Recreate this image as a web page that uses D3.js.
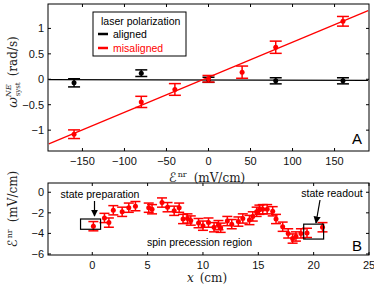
<!DOCTYPE html>
<html>
<head>
<meta charset="utf-8">
<script src="https://cdn.jsdelivr.net/npm/d3@7"></script>
<style>
  body { margin: 0; background: #fff; }
  text { font-family: "Liberation Sans", Arial, sans-serif; }
  .serif { font-family: "DejaVu Serif", "Liberation Serif", serif; }
</style>
</head>
<body>
<div id="chart"></div>
<script>
// panel A data
var fieldA = [-160, -80, 0, 80, 160];
var alignedVals = [-0.07, 0.12, -0.01, -0.03, -0.03];
var alignedErr = [0.08, 0.065, 0.05, 0.06, 0.06];
var fieldM = [-160, -80, -40, 0, 40, 80, 160];
var misVals = [-1.08, -0.445, -0.2, 0.01, 0.14, 0.63, 1.14];
var misErr = [0.085, 0.11, 0.115, 0.065, 0.12, 0.12, 0.095];
// fit lines (value at left and right ends)
var fitX = [-190, 190];
var alignedFit = [-0.005, -0.02];
var misFit = [-1.27, 1.35];
var ticksAx = [-150, -100, -50, 0, 50, 100, 150];
var ticksAy = [-1, -0.5, 0, 0.5, 1];

// panel B data
var posB = [0.1, 1.1, 1.5, 1.9, 2.7, 3.3, 3.9, 5.1, 5.4, 6.3, 6.8, 7.4, 7.85, 8.2, 8.6, 8.9,
  9.6, 10.0, 10.5, 11.0, 11.4, 11.6, 12.2, 12.6, 13.2, 13.6, 14.2, 14.5, 14.85, 15.1, 15.4,
  15.8, 16.3, 16.6, 17.2, 17.7, 18.1, 18.4, 18.85, 19.4, 20.8];
var fieldB = [-3.3, -2.5, -2.95, -1.75, -1.9, -1.5, -1.35, -1.5, -1.65, -1.0, -1.45, -1.8, -1.5,
  -2.6, -2.55, -2.75, -3.0, -3.25, -2.95, -3.4, -3.2, -3.45, -2.8, -3.1, -2.85, -2.55, -2.7,
  -2.35, -1.9, -1.7, -1.65, -1.65, -1.85, -2.6, -3.35, -4.0, -4.5, -4.3, -4.0, -3.95, -3.4];
var errB = 0.45;
var ticksBx = [0, 5, 10, 15, 20, 25];
var ticksBy = [-6, -4, -2, 0];

var svg = d3.select("#chart").append("svg")
    .attr("width", 374)
    .attr("height", 286);

var fmt = function (d) { return String(d).replace("-", "\u2212"); };

function drawFrame(x, y, xt, yt) {
    var g = svg.append("g");
    var x0 = x.range()[0], x1 = x.range()[1];
    var y0 = y.range()[0], y1 = y.range()[1];
    var tl = 3;
    xt.forEach(function (t) {
        g.append("line").attr("x1", x(t)).attr("x2", x(t)).attr("y1", y0).attr("y2", y0 - tl).attr("stroke", "#000");
        g.append("line").attr("x1", x(t)).attr("x2", x(t)).attr("y1", y1).attr("y2", y1 + tl).attr("stroke", "#000");
        g.append("text").attr("x", x(t)).attr("y", y0 + 14).attr("text-anchor", "middle")
            .attr("font-size", 11).attr("fill", "#111").text(fmt(t));
    });
    yt.forEach(function (t) {
        g.append("line").attr("x1", x0).attr("x2", x0 + tl).attr("y1", y(t)).attr("y2", y(t)).attr("stroke", "#000");
        g.append("line").attr("x1", x1).attr("x2", x1 - tl).attr("y1", y(t)).attr("y2", y(t)).attr("stroke", "#000");
        g.append("text").attr("x", x0 - 4).attr("y", y(t) + 4).attr("text-anchor", "end")
            .attr("font-size", 11).attr("fill", "#111").text(fmt(t));
    });
    g.append("rect").attr("x", x0).attr("y", y1).attr("width", x1 - x0).attr("height", y0 - y1)
        .attr("fill", "none").attr("stroke", "#000").attr("stroke-width", 1);
}

function errorBars(g, xs, ys, es, x, y, color, capW, r) {
    xs.forEach(function (d, i) {
        var e = Array.isArray(es) ? es[i] : es;
        var cx = x(d);
        g.append("line").attr("x1", cx).attr("x2", cx).attr("y1", y(ys[i] - e)).attr("y2", y(ys[i] + e))
            .attr("stroke", color).attr("stroke-width", 1.5);
        [ys[i] - e, ys[i] + e].forEach(function (v) {
            g.append("line").attr("x1", cx - capW).attr("x2", cx + capW).attr("y1", y(v)).attr("y2", y(v))
                .attr("stroke", color).attr("stroke-width", 1.5);
        });
        g.append("circle").attr("cx", cx).attr("cy", y(ys[i])).attr("r", r).attr("fill", color);
    });
}

function enrLabel(t) {
    t.append("tspan").attr("font-family", "'DejaVu Sans', sans-serif").attr("font-style", "italic")
        .attr("font-size", 13).text("\u2130");
    t.append("tspan").attr("font-size", 8).attr("dx", 1).attr("dy", -5).text("nr");
    t.append("tspan").attr("dx", 7).attr("dy", 5).text("(mV/cm)");
}

// ---------- panel A
var xA = d3.scaleLinear().domain([-191, 191]).range([48, 369]);
var yA = d3.scaleLinear().domain([-1.41, 1.48]).range([151, 4]);
var gA = svg.append("g");

gA.append("line").attr("x1", xA(fitX[0])).attr("x2", xA(fitX[1]))
    .attr("y1", yA(alignedFit[0])).attr("y2", yA(alignedFit[1]))
    .attr("stroke", "#000").attr("stroke-width", 1.2);
gA.append("line").attr("x1", xA(fitX[0])).attr("x2", xA(fitX[1]))
    .attr("y1", yA(misFit[0])).attr("y2", yA(misFit[1]))
    .attr("stroke", "#f00").attr("stroke-width", 1.2);

errorBars(gA, fieldA, alignedVals, alignedErr, xA, yA, "#000", 6, 2.5);
errorBars(gA, fieldM, misVals, misErr, xA, yA, "#f00", 6, 2.5);

drawFrame(xA, yA, ticksAx, ticksAy);

// legend
var leg = svg.append("g");
leg.append("rect").attr("x", 93).attr("y", 12).attr("width", 93).attr("height", 44)
    .attr("fill", "#fff").attr("stroke", "#000");
leg.append("text").attr("x", 101).attr("y", 25).attr("font-size", 10.5).text("laser polarization");
leg.append("line").attr("x1", 98).attr("x2", 108).attr("y1", 34).attr("y2", 34).attr("stroke", "#000").attr("stroke-width", 2.5);
leg.append("text").attr("x", 113).attr("y", 38).attr("font-size", 10.5).text("aligned");
leg.append("line").attr("x1", 98).attr("x2", 108).attr("y1", 48).attr("y2", 48).attr("stroke", "#f00").attr("stroke-width", 2.5);
leg.append("text").attr("x", 113).attr("y", 52).attr("font-size", 10.5).attr("fill", "#f00").text("misaligned");

svg.append("text").attr("x", 357).attr("y", 144).attr("font-size", 15).attr("text-anchor", "middle").text("A");

// axis labels A
var xlA = svg.append("text").attr("class", "serif").attr("x", 207).attr("y", 182)
    .attr("text-anchor", "middle").attr("font-size", 12).attr("fill", "#222");
enrLabel(xlA);

var ylA = svg.append("text").attr("class", "serif")
    .attr("transform", "translate(17,72) rotate(-90)")
    .attr("text-anchor", "middle").attr("font-size", 12).attr("fill", "#222");
ylA.append("tspan").attr("font-style", "italic").attr("font-size", 13).text("\u03c9");
ylA.append("tspan").attr("font-size", 8).attr("dy", -6).attr("font-style", "italic").text("NE");
ylA.append("tspan").attr("font-size", 7).attr("dx", -12).attr("dy", 9).text("syst");
ylA.append("tspan").attr("dx", 6).attr("dy", -3).text("(rad/s)");

// ---------- panel B
var xB = d3.scaleLinear().domain([-4, 25]).range([48, 369]);
var yB = d3.scaleLinear().domain([-6.1, 0.9]).range([255, 183]);
var gB = svg.append("g");

errorBars(gB, posB, fieldB, errB, xB, yB, "#f00", 5, 2.5);

drawFrame(xB, yB, ticksBx, ticksBy);

// annotation boxes
gB.append("rect").attr("x", xB(-1.06)).attr("y", yB(-2.6)).attr("width", xB(0.75) - xB(-1.06))
    .attr("height", yB(-3.6) - yB(-2.6)).attr("fill", "none").attr("stroke", "#000").attr("stroke-width", 1.2);
gB.append("rect").attr("x", xB(19.1)).attr("y", yB(-3.1)).attr("width", xB(20.9) - xB(19.1))
    .attr("height", yB(-4.55) - yB(-3.1)).attr("fill", "none").attr("stroke", "#000").attr("stroke-width", 1.2);

svg.append("defs").append("marker").attr("id", "arr").attr("viewBox", "0 0 10 10")
    .attr("refX", 9).attr("refY", 5).attr("markerWidth", 6).attr("markerHeight", 6)
    .attr("orient", "auto").append("path").attr("d", "M0,0L10,5L0,10z").attr("fill", "#000");

svg.append("text").attr("x", 100).attr("y", 198).attr("text-anchor", "middle").attr("font-size", 10.5).text("state preparation");
svg.append("line").attr("x1", 94.5).attr("y1", 201).attr("x2", 94.5).attr("y2", 216)
    .attr("stroke", "#000").attr("stroke-width", 1.2).attr("marker-end", "url(#arr)");
svg.append("text").attr("x", 332).attr("y", 197).attr("text-anchor", "middle").attr("font-size", 10.5).text("state readout");
svg.append("line").attr("x1", 320).attr("y1", 200).attr("x2", 316).attr("y2", 223)
    .attr("stroke", "#000").attr("stroke-width", 1.2).attr("marker-end", "url(#arr)");
svg.append("text").attr("x", 199.5).attr("y", 246).attr("text-anchor", "middle").attr("font-size", 10.5).text("spin precession region");

svg.append("text").attr("x", 357).attr("y", 251).attr("font-size", 15).attr("text-anchor", "middle").text("B");

var xlB = svg.append("text").attr("class", "serif").attr("x", 207).attr("y", 282)
    .attr("text-anchor", "middle").attr("font-size", 12).attr("fill", "#222");
xlB.append("tspan").attr("font-style", "italic").text("x");
xlB.append("tspan").attr("dx", 6).text("(cm)");

var ylB = svg.append("text").attr("class", "serif")
    .attr("transform", "translate(17,209) rotate(-90)")
    .attr("text-anchor", "middle").attr("font-size", 12).attr("fill", "#222");
enrLabel(ylB);
</script>
</body>
</html>
